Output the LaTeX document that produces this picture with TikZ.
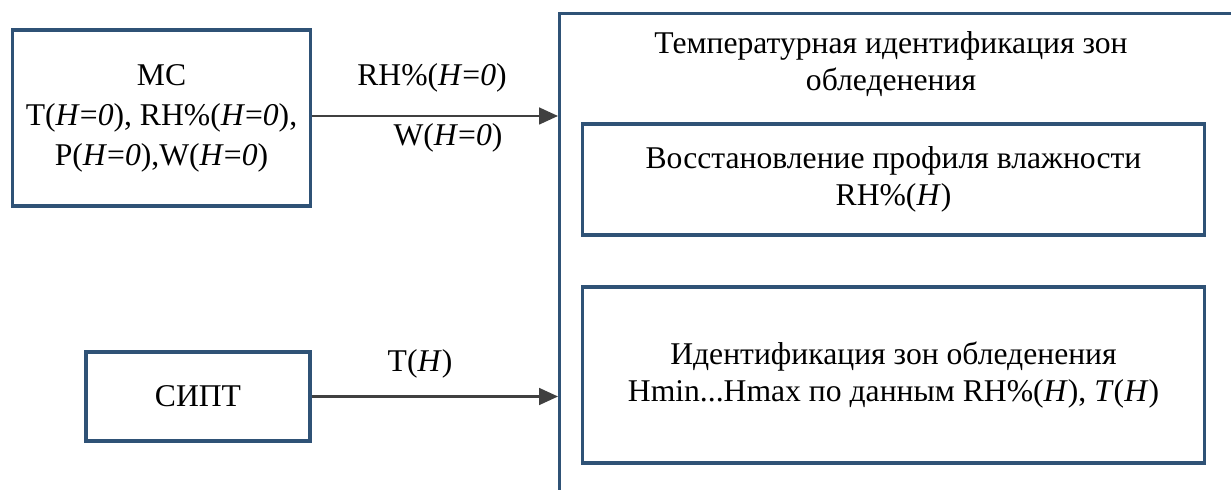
\documentclass[tikz,border=0pt]{standalone}
\usepackage{fontspec}
\setmainfont{Liberation Serif}
\usetikzlibrary{arrows.meta,calc}
\definecolor{boxblue}{HTML}{2F5276}
\definecolor{arrowgray}{HTML}{404040}
\tikzset{
  blockbox/.style={draw=boxblue, line width=2.2pt, align=center, inner sep=0pt},
  flow/.style={draw=arrowgray, line width=1.5pt, -{Triangle[length=13.5pt,width=12pt]}},
  flowlabel/.style={inner sep=0pt}
}
\newcommand{\Hz}{(\textit{H}=\textit{0})}
\begin{document}
\begin{tikzpicture}[x=0.025cm,y=-0.025cm,font=\fontsize{22.5}{26}\selectfont]
      \useasboundingbox (0,0) rectangle (1231,490);
      \clip (0,0) rectangle (1231,490);
      \def\blocks{
        \node [blockbox, minimum width=7.45cm, minimum height=4.4cm,
               font=\fontsize{22.5}{28.5}\selectfont] (mc) at (161.5,118)
          {МС\\T\Hz, RH\%\Hz,\\P\Hz,W\Hz};
        \node [blockbox, minimum width=5.6cm, minimum height=2.225cm] (sipt) at (198,396.5) {СИПТ};
        % outer frame runs off the page on the right and at the bottom
        \node [blockbox, anchor=north west, minimum width=18cm, minimum height=13cm] (zone) at (558,12) {};
        \node [inner sep=0pt, align=center] (title) at (891,64)
          {Температурная идентификация зон\\обледенения};
        \node [blockbox, minimum width=15.525cm, minimum height=2.775cm] (humid) at (893.5,179.5)
          {Восстановление профиля влажности\\RH\%(\textit{H})};
        \node [blockbox, minimum width=15.525cm, minimum height=4.4cm] (icing) at (893.5,375)
          {Идентификация зон обледенения\\Hmin...Hmax по данным RH\%(\textit{H}), \textit{T}(\textit{H})};
      }
      \def\links{
        \draw [flow] (mc.east |- 0,116) -- (zone.west |- 0,116);
        \draw [flow] (sipt.east) -- (sipt.east -| zone.west);
        \node [flowlabel] (rhlabel) at (432,78) {RH\%\Hz};
        \node [flowlabel] (wlabel) at (448,138) {W\Hz};
        \node [flowlabel] (tlabel) at (420,364) {T(\textit{H})};
      }
      \blocks
      \links
    \end{tikzpicture}
\end{document}
